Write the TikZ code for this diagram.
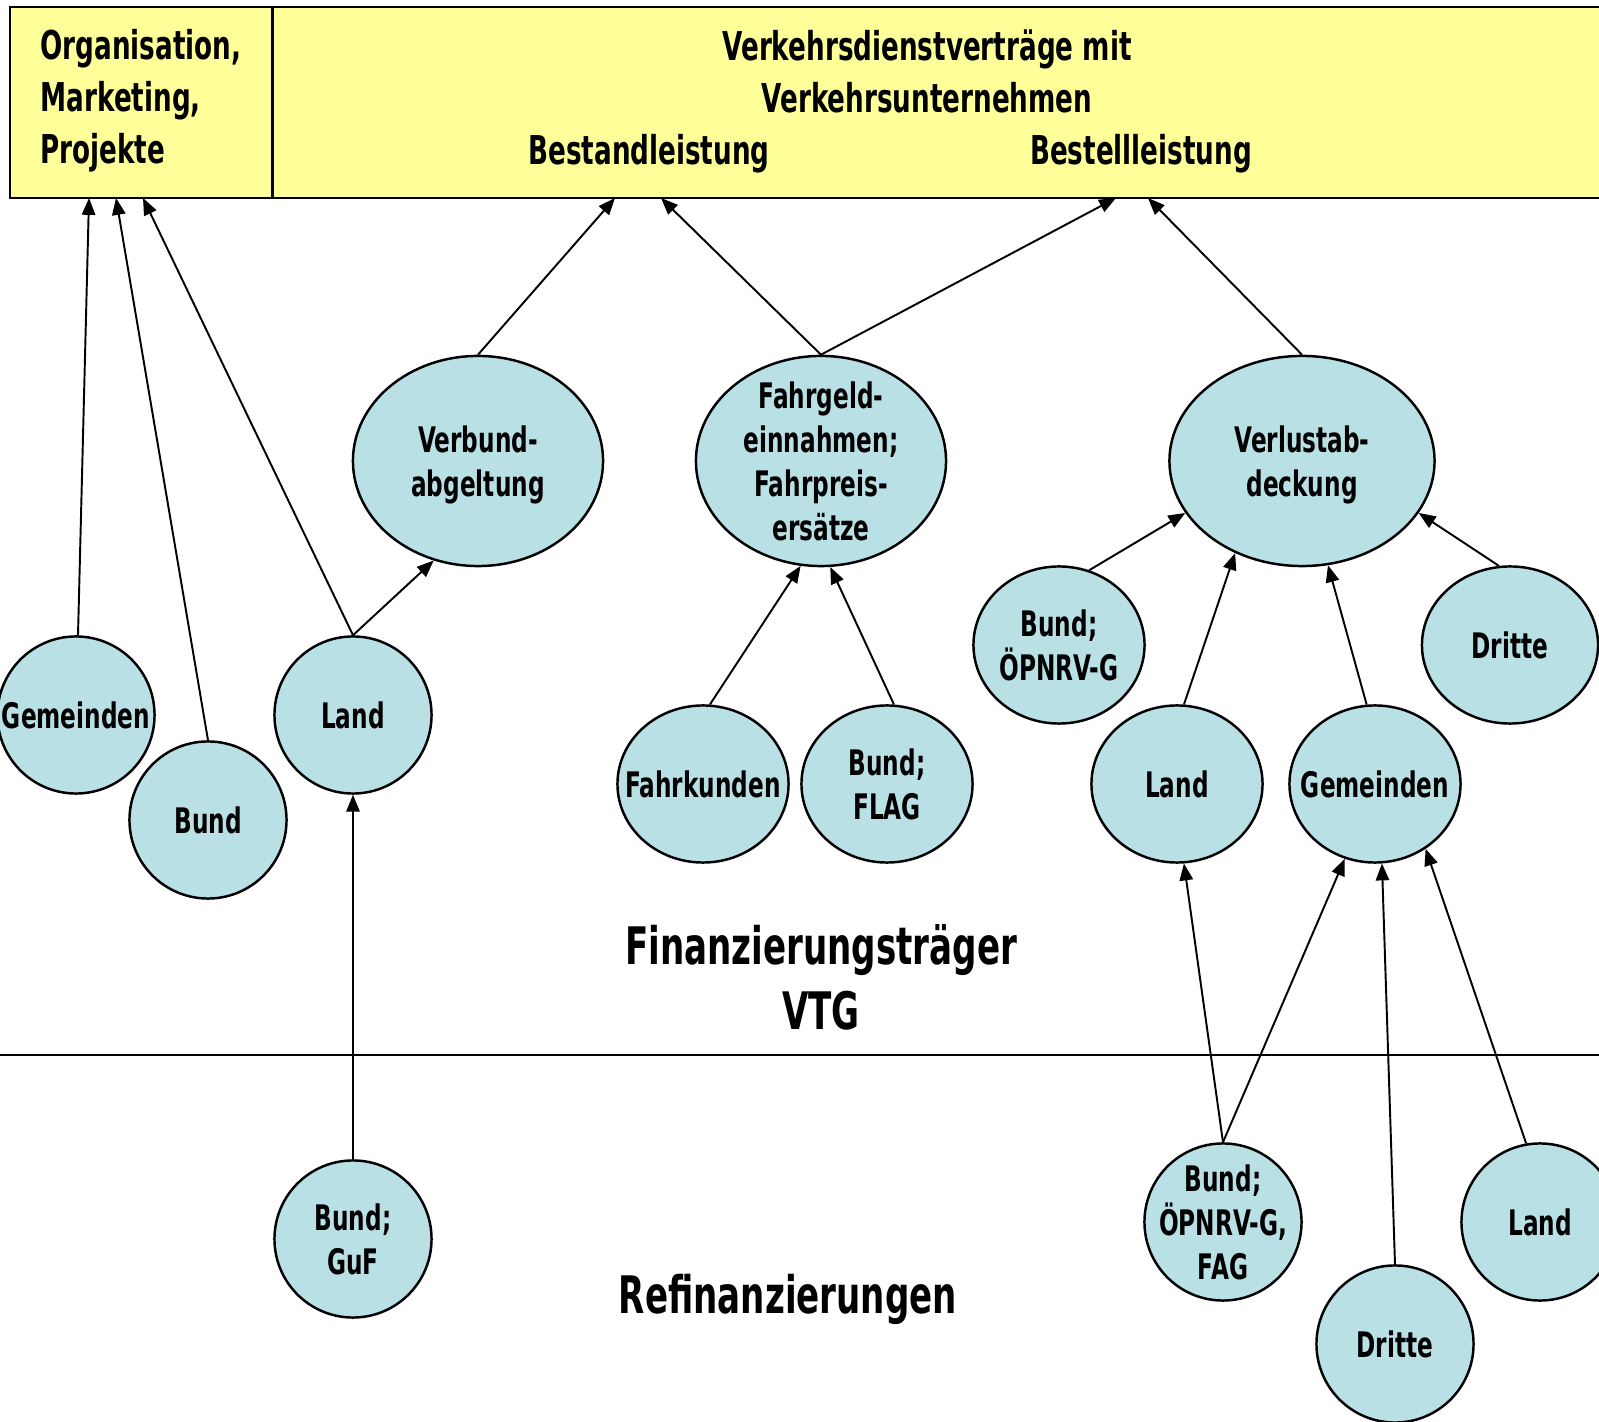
\documentclass[tikz,border=0pt]{standalone}
\usepackage{fontspec}
\setmainfont[FakeStretch=0.66]{DejaVu Sans}
\usetikzlibrary{arrows.meta,positioning,shapes.geometric}

\definecolor{headyellow}{RGB}{255,255,153}
\definecolor{nodeblue}{RGB}{185,224,228}

\begin{document}
\begin{tikzpicture}[x=0.01cm,y=-0.01cm,>={Triangle[length=4.8pt,width=3.8pt]}]
    \tikzset{head box/.style = {rectangle, fill=headyellow, draw, line width=0.8pt, inner sep=0pt, minimum height=1.91cm},
             head text/.style = {font=\bfseries\fontsize{11.3}{14.8}\selectfont},
             main node/.style = {fill=nodeblue, draw, line width=0.7pt, align=center, font=\bfseries\fontsize{10}{12.5}\selectfont},
             round node/.style = {main node, circle, inner sep=-2pt, minimum size=1.57cm},
             oval node/.style = {main node, ellipse, inner sep=-6pt, minimum width=1.71cm, minimum height=1.57cm},
             big node/.style = {main node, ellipse, inner sep=0pt, minimum width=2.5cm, minimum height=2.1cm},
             big label/.style = {align=center, font=\bfseries\fontsize{14.7}{18.5}\selectfont}}
    \useasboundingbox (0,0) rectangle (1599,1422);
    % head boxes
    \node[head box, minimum width=2.63cm] (orga) at (141.5,102.5) {};
    \node[head box, minimum width=13.37cm] (vdv) at (941.5,102.5) {};
    \node[head text, align=left] (orgatext) at (141,101) {Organisation,\\Marketing,\\Projekte};
    \node[head text, align=center] (vdvtext) at (927,71) {Verkehrsdienstverträge mit\\Verkehrsunternehmen};
    \node[head text] (bestand) at (649,154) {Bestandleistung};
    \node[head text] (bestell) at (1141,154) {Bestellleistung};
    \coordinate (o1) at (89,198);
    \coordinate (o2) at (116,198);
    \coordinate (o3) at (143,198);
    \coordinate (b1) at (615,198);
    \coordinate (b2) at (661,198);
    \coordinate (b3) at (1116,198);
    \coordinate (b4) at (1148,198);
    % Finanzierungstraeger
    \node[big node, text depth=0pt] (verbund) at (478,461) {Verbund-\\abgeltung};
    \node[big node, inner ysep=-4pt] (fahrgeld) at (821,461) {Fahrgeld-\\einnahmen;\\Fahrpreis-\\ersätze};
    \node[big node, text depth=0pt, minimum width=2.65cm] (verlust) at (1302,461) {Verlustab-\\deckung};
    \node[round node] (gemL) at (76,715) {Gemeinden};
    \node[round node] (bundL) at (208,820) {Bund};
    \node[round node] (landL) at (353,715) {Land};
    \node[oval node] (fahrkunden) at (703,784) {Fahrkunden};
    \node[oval node] (flag) at (887,784) {Bund;\\FLAG};
    \node[oval node] (bundOe) at (1059,645) {Bund;\\ÖPNRV-G};
    \node[oval node, minimum width=1.76cm] (dritteR) at (1510,645) {Dritte};
    \node[oval node] (landR) at (1177,784) {Land};
    \node[oval node] (gemR) at (1375,784) {Gemeinden};
    \node[big label] (fin) at (821,977) {Finanzierungsträger\\VTG};
    \draw[line width=0.7pt] (0,1055) -- (1599,1055);
    % Refinanzierungen
    \node[round node] (guf) at (353,1239) {Bund;\\GuF};
    \node[round node] (fag) at (1223,1222) {Bund;\\ÖPNRV-G,\\FAG};
    \node[round node] (dritteB) at (1395,1344) {Dritte};
    \node[round node] (landB) at (1540,1222) {Land};
    \node[big label] (refin) at (788,1299) {Refinanzierungen};
    \path[->, line width=0.55pt]
    (gemL) edge (o1)
    (bundL.north) edge (o2)
    (landL.north) edge (o3)
    (landL.north) edge (verbund.246)
    (verbund.north) edge (b1)
    (fahrgeld.north) edge (b2)
    (fahrgeld.north) edge (b3)
    (verlust.north) edge (b4)
    (fahrkunden.85) edge (fahrgeld.259)
    (flag.85) edge (fahrgeld.275)
    (bundOe.68) edge (verlust.204)
    (landR.85) edge (verlust.234)
    (gemR.96) edge (verlust.284)
    (dritteR.98) edge (verlust.336)
    (guf) edge (landL)
    (fag.north) edge (landR.275)
    (fag.north) edge (gemR.248)
    (dritteB.north) edge (gemR.275)
    (landB.100) edge (gemR.308);
\end{tikzpicture}
\end{document}
